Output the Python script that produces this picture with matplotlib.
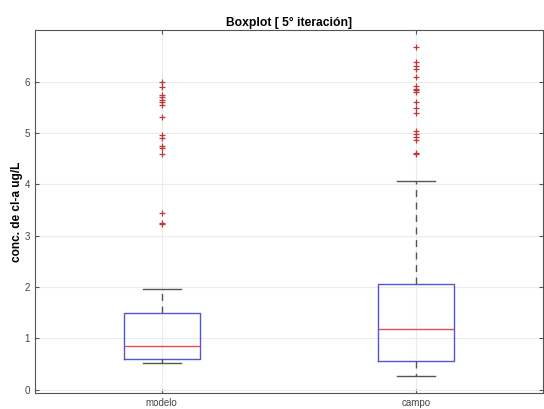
import matplotlib
matplotlib.use('Agg')
import matplotlib.pyplot as plt

plt.rcParams['font.family'] = ['Liberation Sans', 'DejaVu Sans']

# valores
categorias = ['modelo', 'campo']
medianas = [0.84, 1.18]
q1 = [0.59, 0.56]
q3 = [1.50, 2.06]
bigote_inf = [0.52, 0.27]
bigote_sup = [1.97, 4.07]
outliers_modelo = [5.99, 5.90, 5.75, 5.70, 5.65, 5.60, 5.54, 5.32, 4.96, 4.91,
                   4.75, 4.70, 4.60, 3.44, 3.25, 3.22]
outliers_campo = [6.67, 6.39, 6.31, 6.25, 6.10, 5.91, 5.86, 5.83, 5.81, 5.60,
                  5.48, 5.40, 5.04, 4.99, 4.93, 4.87, 4.62, 4.59]
yticks = [0, 1, 2, 3, 4, 5, 6]

stats = []
outs = [outliers_modelo, outliers_campo]
for i, c in enumerate(categorias):
    stats.append({'label': c, 'med': medianas[i], 'q1': q1[i], 'q3': q3[i],
                  'whislo': bigote_inf[i], 'whishi': bigote_sup[i],
                  'fliers': outs[i]})

fig = plt.figure(figsize=(5.44, 4.09), dpi=100)
ax = fig.add_axes([0.0636, 0.040, 0.935, 0.8855])

ax.bxp(stats, positions=[1, 2], widths=0.3,
       boxprops=dict(color='#5555cc', linewidth=1.0),
       medianprops=dict(color='#e05050', linewidth=1.0),
       whiskerprops=dict(color='#555555', linestyle=(0, (5, 4)), linewidth=1.0),
       capprops=dict(color='#555555', linewidth=1.0),
       flierprops=dict(marker='+', markeredgecolor='#c03838', markersize=5,
                       markeredgewidth=0.9, linestyle='none'))

ax.set_xlim(0.5, 2.5)
ax.set_ylim(-0.06, 7.0)
ax.set_yticks(yticks)
ax.set_xticks([1, 2])
ax.set_xticklabels(categorias)
ax.grid(True, color='#ebebeb', linewidth=0.8)
ax.set_axisbelow(True)
ax.tick_params(direction='in', length=3, colors='#555555', labelsize=7,
               right=True, top=True, labelcolor='#444444')
for s in ax.spines.values():
    s.set_color('#555555')
    s.set_linewidth(0.8)

ax.set_title('Boxplot [ 5° iteración]', fontsize=8.7, fontweight='bold', pad=3)
ax.set_ylabel('conc. de cl-a ug/L', fontsize=8.6, fontweight='bold', labelpad=1)

fig.savefig('out.png', dpi=100)
